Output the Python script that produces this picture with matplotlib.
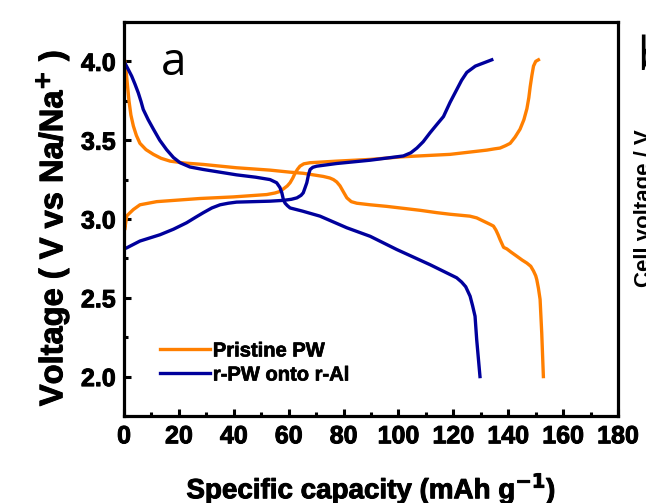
import matplotlib
matplotlib.use("Agg")
import matplotlib.pyplot as plt
import matplotlib.patheffects as pe
from matplotlib.ticker import MultipleLocator

# ---- data ----
pw_charge_x = [0, 0.2, 1.0, 3.4, 5.8, 11.9, 27.7, 39.8, 52, 55, 56.9, 58, 59.5, 60.5,
               61.5, 62.3, 63.2, 64.1, 65.5, 67.8, 77.5, 89.7, 101.8, 118.8, 132.2, 135,
               137, 139, 140.7, 142.5, 144.3, 145.7, 146.8, 147.5, 148, 148.6, 149.2,
               150, 151]
pw_charge_y = [3.12, 2.93, 3.02, 3.06, 3.09, 3.11, 3.13, 3.14, 3.155, 3.165, 3.175, 3.19,
               3.21, 3.23, 3.26, 3.29, 3.315, 3.335, 3.35, 3.357, 3.367, 3.378, 3.395,
               3.41, 3.437, 3.445, 3.45, 3.465, 3.48, 3.52, 3.57, 3.63, 3.70, 3.77, 3.84,
               3.91, 3.97, 4.0, 4.01]

pw_dis_x = [0.3, 0.8, 1.3, 1.8, 2.5, 3.4, 4.5, 5.8, 8, 10.7, 13.5, 16.8, 22, 28.9, 41,
            53.2, 60.5, 65.3, 72.6, 75, 76.3, 77.5, 78.7, 80, 81.2, 82.8, 84.8, 89.7,
            95.7, 107.9, 114, 118.8, 126, 128.5, 132.2, 133.5, 134.6, 135.5, 136.3, 137,
            138.3, 139.5, 141, 143.1, 145, 146.8, 148.2, 149.2, 150, 150.4, 151, 151.6,
            152.2, 152.8]
pw_dis_y = [4.0, 3.93, 3.84, 3.75, 3.66, 3.59, 3.53, 3.48, 3.44, 3.41, 3.385, 3.367,
            3.355, 3.346, 3.325, 3.31, 3.297, 3.29, 3.27, 3.26, 3.25, 3.235, 3.21, 3.17,
            3.134, 3.11, 3.10, 3.09, 3.08, 3.055, 3.04, 3.03, 3.018, 3.007, 2.976, 2.965,
            2.955, 2.93, 2.90, 2.87, 2.82, 2.81, 2.79, 2.764, 2.74, 2.72, 2.70, 2.67,
            2.64, 2.615, 2.56, 2.49, 2.277, 2.0]

rpw_charge_x = [0, 1, 5.8, 13.1, 18, 22.8, 26, 28.9, 32, 35, 38, 41, 53.2, 58, 61, 63,
                64.5, 65.3, 66, 66.6, 67.2, 67.8, 68.8, 70.2, 77.5, 89.7, 101.8, 104.5,
                106.7, 109, 111.5, 114, 116.4, 118.8, 121.2, 123, 124.9, 128, 131, 134]
rpw_charge_y = [2.81, 2.817, 2.86, 2.90, 2.935, 2.976, 3.01, 3.04, 3.07, 3.09, 3.10,
                3.107, 3.113, 3.118, 3.125, 3.134, 3.15, 3.166, 3.20, 3.23, 3.28, 3.314,
                3.328, 3.335, 3.352, 3.373, 3.40, 3.42, 3.45, 3.49, 3.547, 3.60, 3.65,
                3.74, 3.82, 3.88, 3.93, 3.97, 3.99, 4.01]

rpw_dis_x = [0.3, 1.5, 2.8, 4, 5.2, 6.2, 7, 8.8, 10.7, 13, 15.5, 18, 20.4, 24, 28.9, 41,
             48, 53.2, 55.6, 56.8, 57.5, 58.1, 58.7, 59.5, 60.5, 65, 71.4, 81.2, 89.7,
             99.4, 111.5, 121.2, 123, 124.5, 126.1, 127, 127.9, 128.5, 129.7]
rpw_dis_y = [3.99, 3.95, 3.906, 3.855, 3.80, 3.745, 3.695, 3.63, 3.57, 3.50, 3.44, 3.39,
             3.357, 3.33, 3.314, 3.28, 3.265, 3.25, 3.23, 3.20, 3.166, 3.12, 3.10,
             3.085, 3.07, 3.05, 3.018, 2.944, 2.89, 2.806, 2.71, 2.627, 2.60, 2.57,
             2.51, 2.45, 2.383, 2.235, 2.0]

labels = ["Pristine PW", "r-PW onto r-Al"]
colors = ["#FF7F00", "#00009C"]
x_ticks = [0, 20, 40, 60, 80, 100, 120, 140, 160, 180]
y_ticks = [2.0, 2.5, 3.0, 3.5, 4.0]

plt.rcParams["mathtext.default"] = "bf"
heavy = [pe.withStroke(linewidth=0.7, foreground="black")]

# ---- figure ----
fig = plt.figure(figsize=(6.46, 5.03), dpi=100)
ax = fig.add_axes([0.192, 0.173, 0.7647, 0.7833])

lw = 2.4
ax.plot(pw_charge_x, pw_charge_y, color=colors[0], lw=lw, label=labels[0])
ax.plot(pw_dis_x, pw_dis_y, color=colors[0], lw=lw)
ax.plot(rpw_charge_x, rpw_charge_y, color=colors[1], lw=lw, label=labels[1])
ax.plot(rpw_dis_x, rpw_dis_y, color=colors[1], lw=lw)

ax.set_xlim(0, 180)
ax.set_ylim(1.75, 4.25)
ax.set_xticks(x_ticks)
ax.set_yticks(y_ticks)
ax.set_xticklabels([str(v) for v in x_ticks])
ax.set_yticklabels([f"{v:.1f}" for v in y_ticks])
ax.xaxis.set_minor_locator(MultipleLocator(10))
ax.yaxis.set_minor_locator(MultipleLocator(0.25))

for s in ax.spines.values():
    s.set_linewidth(2.3)
ax.tick_params(which="both", direction="in", top=False, right=False, width=2.2)
ax.tick_params(which="major", length=5, pad=6)
ax.tick_params(which="minor", length=3)
for t in ax.get_xticklabels() + ax.get_yticklabels():
    t.set_fontfamily("Liberation Sans")
    t.set_fontweight("bold")
    t.set_fontsize(18)
    t.set_path_effects(heavy)

ax.set_xlabel("Specific capacity (mAh g$^{\\mathbf{-1}}$)", fontfamily="Liberation Sans",
              fontweight="bold", fontsize=20, labelpad=16, path_effects=heavy)
ax.set_ylabel("Voltage ( V vs Na/Na$^{\\mathbf{+}}$ )", fontfamily="Liberation Sans",
              fontweight="bold", fontsize=23.5, path_effects=heavy, va="center")
ax.yaxis.set_label_coords(-0.1457, 0.477)

leg = ax.legend(loc="center left", bbox_to_anchor=(0.073, 0.1345), frameon=False,
                borderpad=0, borderaxespad=0, handlelength=2.5, handletextpad=0.12,
                labelspacing=0.25,
                prop={"family": "Liberation Sans", "weight": "bold", "size": 14.5})
for t in leg.get_texts():
    t.set_path_effects([pe.withStroke(linewidth=0.5, foreground="black")])

ax.text(0.075, 0.8655, "a", transform=ax.transAxes, fontfamily="Open Sans",
        fontsize=33, ha="left", va="baseline")
fig.text(0.986, (503 - 70) / 503, "b", fontfamily="Open Sans", fontsize=33,
         ha="left", va="baseline")
fig.text(0.982, 0.5865, "Cell voltage / V", rotation=90, fontfamily="Liberation Sans",
         fontweight="bold", fontsize=16, ha="left", va="center")

fig.savefig("out.png", dpi=100)
